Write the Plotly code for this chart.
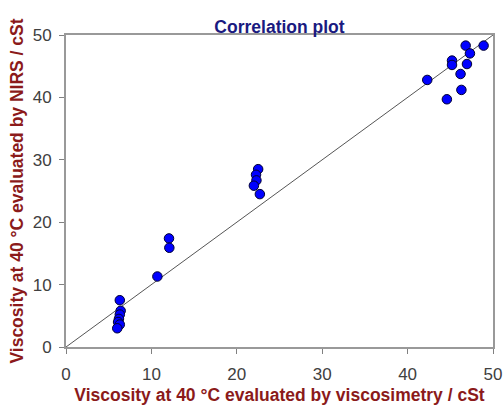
import plotly.graph_objects as go

x_visc = [6.3, 6.4, 6.3, 6.2, 6.1, 6.3, 6.0,
          10.7, 12.06, 12.1,
          22.5, 22.25, 22.3, 22.0, 22.7,
          46.8, 48.9, 47.3, 45.2, 45.2, 46.95, 46.2, 42.3, 46.3, 44.6]
y_nirs = [7.5, 5.8, 5.2, 4.5, 4.0, 3.6, 3.0,
          11.3, 17.4, 15.9,
          28.5, 27.6, 26.7, 25.85, 24.5,
          48.3, 48.3, 47.05, 45.9, 45.2, 45.35, 43.75, 42.8, 41.2, 39.7]
diag = [0, 50]
ticks = [0, 10, 20, 30, 40, 50]

fig = go.Figure()
fig.add_trace(go.Scatter(x=diag, y=diag, mode="lines",
                         line=dict(color="#555555", width=1), hoverinfo="skip"))
fig.add_trace(go.Scatter(x=x_visc, y=y_nirs, mode="markers",
                         marker=dict(color="#0000FF", size=9.5,
                                     line=dict(color="#000033", width=1))))

axis_common = dict(range=[0, 50], tickvals=ticks, ticks="outside", ticklen=5,
                   tickcolor="#808080", showline=True, linecolor="#999999",
                   linewidth=2, mirror=True, showgrid=False, zeroline=False,
                   automargin=False,
                   tickfont=dict(family="Arial", size=17, color="#404040"))

fig.update_layout(
    width=503, height=405,
    margin=dict(l=66, r=10, t=35, b=58),
    plot_bgcolor="white", paper_bgcolor="white",
    showlegend=False,
    title=dict(text="<b>Correlation plot</b>", xref="paper", x=0.5, xanchor="center",
               yref="container", y=1 - 27 / 405, yanchor="middle",
               font=dict(family="Arial", size=17.5, color="#1a1a80")),
    xaxis=dict(**axis_common, ticklabelstandoff=6,
               title=dict(text="<b>Viscosity at 40 °C evaluated by viscosimetry / cSt</b>",
                          font=dict(family="Arial", size=17.5, color="#8B1A1A"),
                          standoff=10)),
    yaxis=dict(**axis_common, ticklabelstandoff=4,
               title=dict(text="<b>Viscosity at 40 °C evaluated by NIRS / cSt</b>",
                          font=dict(family="Arial", size=17.5, color="#8B1A1A"),
                          standoff=5)),
)

fig.write_html("out.html")
